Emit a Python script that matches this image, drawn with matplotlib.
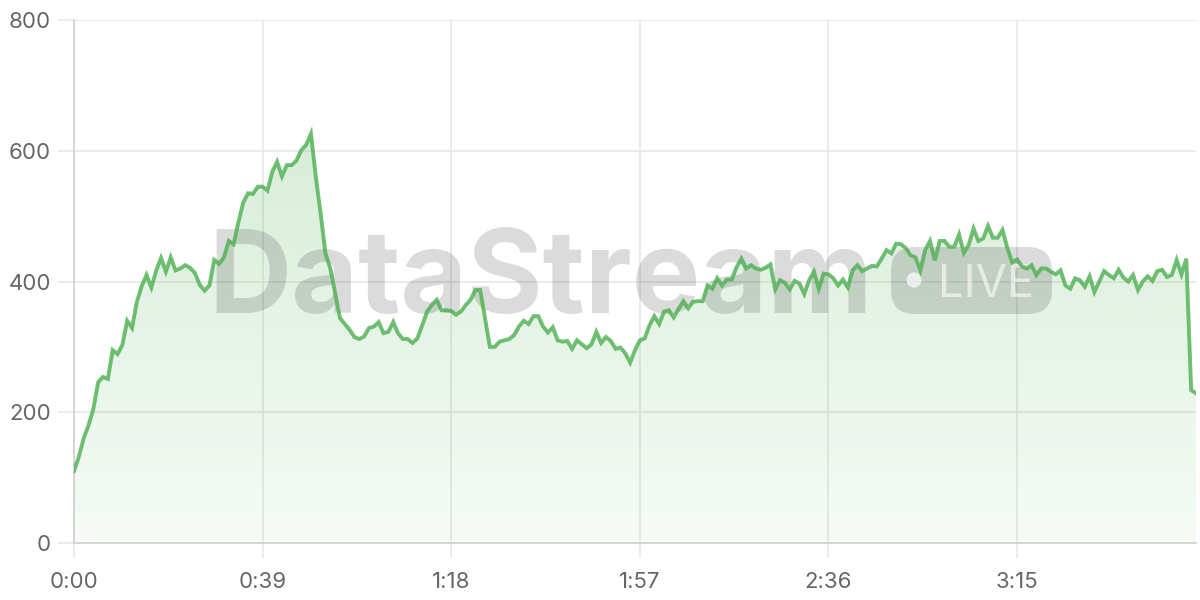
import numpy as np
import matplotlib
matplotlib.use("Agg")
import matplotlib.pyplot as plt
from matplotlib.patches import FancyBboxPatch, Circle
from matplotlib.transforms import IdentityTransform

# valores, uno por segundo
valores = [
    110, 132, 160, 180, 205, 246, 254, 251, 295, 289,
    303, 340, 329, 369, 393, 410, 391, 417, 436, 415,
    437, 417, 420, 425, 421, 413, 395, 386, 394, 433,
    427, 437, 462, 457, 491, 521, 535, 534, 545, 545,
    539, 568, 583, 561, 578, 578, 585, 601, 609, 626,
    560, 504, 443, 420, 382, 344, 335, 326, 315, 312,
    316, 329, 331, 338, 321, 323, 338, 321, 312, 312,
    306, 313, 333, 354, 364, 372, 356, 356, 355, 349,
    354, 364, 372, 387, 387, 344, 300, 300, 308, 310,
    312, 318, 331, 340, 335, 347, 347, 331, 322, 330,
    310, 308, 309, 297, 310, 304, 298, 304, 323, 306,
    315, 309, 297, 299, 290, 276, 295, 310, 313, 333,
    347, 335, 354, 356, 345, 358, 370, 359, 369, 370,
    370, 394, 389, 405, 394, 403, 403, 422, 435, 420,
    425, 420, 418, 421, 426, 388, 402, 398, 388, 401,
    397, 381, 402, 415, 389, 412, 411, 405, 394, 403,
    391, 417, 425, 416, 420, 424, 423, 435, 448, 443,
    458, 457, 451, 440, 437, 417, 448, 462, 432, 462,
    462, 453, 453, 472, 444, 456, 481, 462, 466, 485,
    467, 467, 479, 451, 429, 434, 423, 420, 425, 410,
    420, 420, 415, 411, 417, 394, 389, 405, 402, 392,
    408, 384, 400, 416, 410, 405, 418, 406, 400, 410,
    387, 400, 408, 401, 416, 418, 407, 410, 433, 411,
    435, 234, 229,
]
segundos = list(range(len(valores)))
marcas_y = [0, 200, 400, 600, 800]
marcas_x = [0, 39, 78, 117, 156, 195]
etiquetas_x = ["0:00", "0:39", "1:18", "1:57", "2:36", "3:15"]

verde = (76 / 255, 175 / 255, 80 / 255)
gris_txt = "#666666"

fig = plt.figure(figsize=(12, 6), dpi=100)
ax = fig.add_axes([74 / 1200, 57 / 600, 1122 / 1200, 523 / 600])
ax.set_xlim(0, segundos[-1])
ax.set_ylim(0, 800)

# relleno con degradado vertical
fill = ax.fill_between(segundos, valores, 0, color="none", zorder=1)
grad = np.zeros((256, 1, 4))
grad[:, 0, 0] = verde[0]
grad[:, 0, 1] = verde[1]
grad[:, 0, 2] = verde[2]
grad[:, 0, 3] = np.linspace(0.27, 0.05, 256)
img = ax.imshow(grad, extent=[0, segundos[-1], 0, 800], aspect="auto",
                origin="upper", zorder=1)
img.set_clip_path(fill.get_paths()[0], transform=ax.transData)

ax.plot(segundos, valores, color=verde, alpha=0.8, lw=2.8,
        solid_joinstyle="miter", zorder=5)

# marca de agua (debajo de la línea)
wm = ax.text(208 / 1200, 1 - 313 / 600, "DataStream",
             transform=fig.transFigure,
             fontsize=86, fontweight="bold", family="Inter",
             color="black", alpha=0.14, ha="left", va="baseline", zorder=3)
fig.canvas.draw()
bb = wm.get_window_extent()
wm.set_fontsize(86 * 664 / bb.width)

ident = IdentityTransform()
pill = FancyBboxPatch((891, 600 - 314), 161, 67,
                      boxstyle="round,pad=0,rounding_size=24",
                      transform=ident, facecolor="black", alpha=0.14,
                      edgecolor="none", zorder=3)
ax.add_patch(pill)
ax.add_patch(Circle((914, 600 - 280), 7.5, transform=ident,
                    facecolor="white", alpha=0.7, edgecolor="none", zorder=3))
live = ax.text(938 / 1200, 1 - 297 / 600, "LIVE", transform=fig.transFigure,
               fontsize=34, family="Inter", fontweight="normal",
               color="white", alpha=0.6, ha="left", va="baseline", zorder=3)
fig.canvas.draw()
bb = live.get_window_extent()
live.set_fontsize(34 * 96 / bb.width)

# ejes
ax.set_yticks(marcas_y)
ax.set_xticks(marcas_x)
ax.set_xticklabels(etiquetas_x)
ax.grid(True, color="#e6e6e6", lw=1.1, zorder=0)
ax.set_axisbelow(True)
for s in ["top", "right"]:
    ax.spines[s].set_visible(False)
for s in ["left", "bottom"]:
    ax.spines[s].set_color("#cfcfcf")
    ax.spines[s].set_linewidth(1.2)
ax.tick_params(axis="y", length=11.5, width=1.1, color="#e6e6e6", pad=5,
               labelsize=16, labelcolor=gris_txt)
ax.tick_params(axis="x", length=11, width=1.1, color="#e6e6e6", pad=10,
               labelsize=16, labelcolor=gris_txt)
for lab in ax.get_xticklabels() + ax.get_yticklabels():
    lab.set_family("Inter")

fig.savefig("out.png", dpi=100)
